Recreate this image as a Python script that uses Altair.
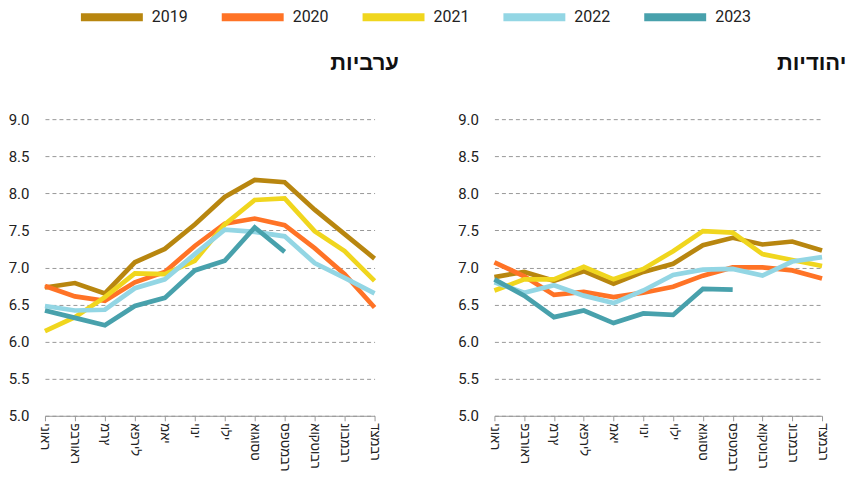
import altair as alt
import pandas as pd

months = ["ינואר", "פברואר", "מרץ", "אפריל", "מאי", "יוני",
          "יולי", "אוגוסט", "ספטמבר", "אוקטובר", "נובמבר", "דצמבר"]
years = ["2019", "2020", "2021", "2022", "2023"]
colors = ["#B8860F", "#FF7326", "#F0D61E", "#93D6E4", "#48A1AC"]

# Arab women (left panel)
arab_2019 = [6.73, 6.79, 6.65, 7.07, 7.25, 7.58, 7.95, 8.18, 8.15, 7.78, 7.45, 7.12]
arab_2020 = [6.75, 6.61, 6.55, 6.80, 6.94, 7.29, 7.59, 7.66, 7.57, 7.26, 6.91, 6.46]
arab_2021 = [6.14, 6.33, 6.60, 6.92, 6.91, 7.09, 7.58, 7.91, 7.93, 7.49, 7.22, 6.82]
arab_2022 = [6.48, 6.42, 6.43, 6.72, 6.84, 7.18, 7.51, 7.48, 7.42, 7.06, 6.86, 6.65]
arab_2023 = [6.42, 6.32, 6.22, 6.48, 6.59, 6.96, 7.09, 7.54, 7.21]

# Jewish women (right panel)
jew_2019 = [6.87, 6.94, 6.82, 6.95, 6.78, 6.94, 7.05, 7.30, 7.40, 7.31, 7.35, 7.23]
jew_2020 = [7.07, 6.88, 6.63, 6.67, 6.60, 6.66, 6.74, 6.89, 7.00, 7.00, 6.96, 6.85]
jew_2021 = [6.69, 6.84, 6.84, 7.01, 6.84, 6.98, 7.22, 7.49, 7.47, 7.18, 7.10, 7.02]
jew_2022 = [6.80, 6.66, 6.76, 6.62, 6.52, 6.69, 6.90, 6.97, 6.98, 6.89, 7.08, 7.14]
jew_2023 = [6.84, 6.62, 6.33, 6.42, 6.25, 6.38, 6.36, 6.71, 6.70]


def to_df(series):
    rows = []
    for yr, vals in zip(years, series):
        for m, v in zip(months, vals):
            rows.append({"year": yr, "month": m, "value": v})
    return pd.DataFrame(rows)


arab_df = to_df([arab_2019, arab_2020, arab_2021, arab_2022, arab_2023])
jew_df = to_df([jew_2019, jew_2020, jew_2021, jew_2022, jew_2023])

yticks = [5.0, 5.5, 6.0, 6.5, 7.0, 7.5, 8.0, 8.5, 9.0]


def panel(df, title, w, h):
    return alt.Chart(df).mark_line(strokeWidth=4.7).encode(
        x=alt.X("month:N", sort=months, scale=alt.Scale(padding=0),
                axis=alt.Axis(title=None, labelAngle=90, labelFontSize=13,
                              labelFont="Liberation Sans", labelColor="#222",
                              labelExpr="join(reverse(split(datum.label, '')), '')",
                              domainColor="#999", tickColor="#999", tickSize=5,
                              labelPadding=2, grid=False)),
        y=alt.Y("value:Q", scale=alt.Scale(domain=[5, 9], nice=False, zero=False),
                axis=alt.Axis(title=None, values=yticks, format=".1f",
                              labelFontSize=15, labelFont="Roboto", labelColor="#222",
                              labelPadding=16, ticks=False, domain=False,
                              grid=True, gridDash=[4, 3], gridColor="#999",
                              gridWidth=1)),
        color=alt.Color("year:N", scale=alt.Scale(domain=years, range=colors),
                        legend=alt.Legend(title=None, orient="none",
                                          direction="horizontal", columns=5,
                                          legendX=59, legendY=-110,
                                          symbolType="M-7.75,0H7.75", symbolSize=64,
                                          symbolStrokeWidth=8,
                                          labelFontSize=16, labelFont="Roboto",
                                          labelColor="#222", labelOffset=32,
                                          columnPadding=18)),
    ).properties(
        width=w, height=h,
        title=alt.TitleParams(text=title, anchor="end", dx=15, offset=37,
                              fontSize=22, font="Liberation Sans",
                              fontWeight="bold", color="#111"),
    )


chart = alt.hconcat(
    panel(arab_df, "ערביות", 330, 297),
    panel(jew_df, "יהודיות", 328, 297),
    spacing=58,
).properties(
    padding={"left": 0, "top": 1, "right": 0, "bottom": 0}
).configure_view(stroke=None)

chart.save("out.html", embed_options={"renderer": "svg", "actions": False})
